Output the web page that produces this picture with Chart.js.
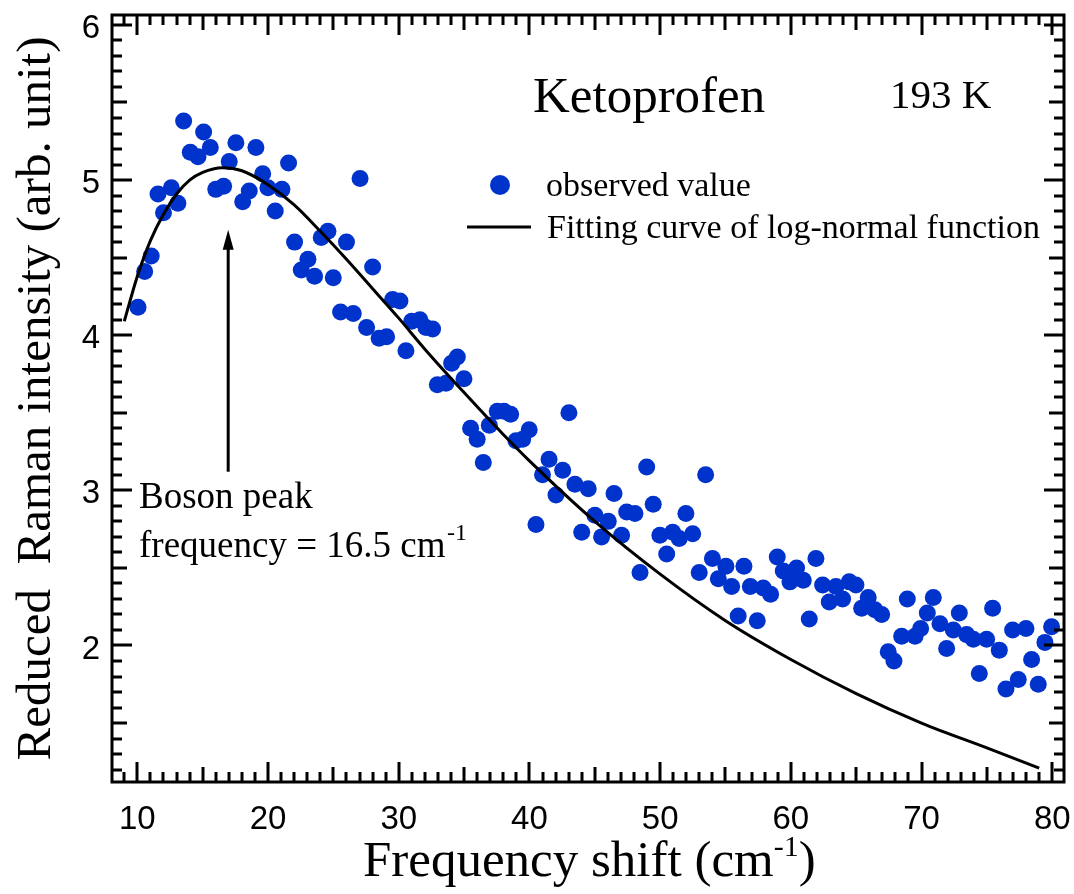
<!DOCTYPE html>
<html>
<head>
<meta charset="utf-8">
<script src="https://cdn.jsdelivr.net/npm/chart.js@4/dist/chart.umd.min.js"></script>
<style>
  body { margin: 0; background: #fff; }
  canvas { display: block; }
</style>
</head>
<body>
<canvas id="ramanChart" width="1074" height="894"></canvas>
<script>
// observed reduced Raman intensity, Ketoprofen 193 K
const obsShift = [
  10.05, 10.56, 11.06, 11.58, 12.00, 12.60, 13.10, 13.54, 14.05, 14.64,
  15.07, 15.58, 16.00, 16.60, 17.03, 17.54, 18.06, 18.56, 19.07, 19.59,
  19.99, 20.55, 21.06, 21.57, 22.03, 22.54, 23.05, 23.56, 24.07, 24.58,
  24.99, 25.55, 26.00, 26.52, 27.04, 27.54, 28.00, 28.50, 29.07, 29.53,
  30.09, 30.55, 30.99, 31.62, 32.08, 32.59, 32.95, 33.61, 34.05, 34.48,
  34.99, 35.50, 36.00, 36.47, 36.93, 37.54, 38.05, 38.56, 38.97, 39.48,
  39.98, 40.50, 41.00, 41.50, 42.03, 42.54, 43.02, 43.48, 44.00, 44.50,
  45.01, 45.52, 46.03, 46.47, 47.05, 47.44, 48.07, 48.46, 48.97, 49.47,
  49.98, 50.50, 50.96, 51.46, 51.97, 52.49, 52.99, 53.48, 54.00, 54.45,
  55.03, 55.47, 55.97, 56.41, 56.90, 57.43, 57.89, 58.45, 58.96, 59.42,
  59.93, 60.44, 60.95, 61.41, 61.92, 62.43, 62.94, 63.45, 63.96, 64.47,
  64.98, 65.42, 65.92, 66.43, 66.95, 67.45, 67.89, 68.48, 68.91, 69.50,
  69.93, 70.44, 70.90, 71.41, 71.92, 72.43, 72.89, 73.45, 73.96, 74.42,
  74.98, 75.44, 75.95, 76.46, 76.97, 77.40, 77.99, 78.42, 78.93, 79.44,
  79.95
]
const obsIntensity = [
  4.18, 4.41, 4.51, 4.91, 4.79, 4.95, 4.85, 5.38, 5.18, 5.15,
  5.31, 5.21, 4.94, 4.96, 5.12, 5.24, 4.86, 4.93, 5.21, 5.04,
  4.95, 4.80, 4.94, 5.11, 4.60, 4.42, 4.49, 4.38, 4.63, 4.67,
  4.37, 4.15, 4.60, 4.14, 5.01, 4.05, 4.44, 3.98, 3.99, 4.23,
  4.22, 3.90, 4.09, 4.10, 4.05, 4.04, 3.68, 3.69, 3.82, 3.86,
  3.72, 3.40, 3.33, 3.18, 3.42, 3.51, 3.51, 3.49, 3.32, 3.33,
  3.39, 2.78, 3.10, 3.20, 2.97, 3.13, 3.50, 3.04, 2.73, 3.01,
  2.84, 2.70, 2.80, 2.98, 2.71, 2.86, 2.85, 2.47, 3.15, 2.91,
  2.71, 2.59, 2.73, 2.69, 2.85, 2.72, 2.47, 3.10, 2.56, 2.43,
  2.51, 2.38, 2.19, 2.51, 2.38, 2.16, 2.37, 2.33, 2.57, 2.48,
  2.41, 2.50, 2.42, 2.17, 2.56, 2.39, 2.28, 2.38, 2.30, 2.41,
  2.39, 2.24, 2.31, 2.23, 2.20, 1.96, 1.90, 2.06, 2.30, 2.06,
  2.11, 2.21, 2.31, 2.14, 1.98, 2.10, 2.21, 2.07, 2.04, 1.82,
  2.04, 2.24, 1.97, 1.72, 2.10, 1.78, 2.11, 1.91, 1.75, 2.02,
  2.12
]

// log-normal fitting curve
const fitShift = [9.0, 10, 11, 12, 13, 14, 15, 16.5, 18, 20, 22, 24, 26, 28, 30, 32, 35, 38, 40, 45, 50, 55, 60, 65, 70, 75, 79]
const fitIntensity = [4.09, 4.38, 4.61, 4.78, 4.91, 5.00, 5.05, 5.08, 5.06, 4.97, 4.84, 4.67, 4.49, 4.30, 4.11, 3.91, 3.63, 3.36, 3.19, 2.80, 2.46, 2.16, 1.91, 1.69, 1.50, 1.34, 1.21]

const xTickLabels = [10, 20, 30, 40, 50, 60, 70, 80]
const yTickLabels = [2, 3, 4, 5, 6]

const DOT_BLUE = '#0033CC'
const SERIF = '"Liberation Serif", "Times New Roman", serif'
const SANS = '"Liberation Sans", Arial, sans-serif'

// text with optional superscript parts: [[text, size, rise], ...]
function drawRich(ctx, parts, x, y) {
    let cx = x
    parts.forEach(([text, size, rise]) => {
        ctx.font = `${size}px ${SERIF}`
        ctx.fillText(text, cx, y - (rise || 0))
        cx += ctx.measureText(text).width
    })
}

// frame and inward ticks on all four sides
const frameTicks = {
    id: 'frameTicks',
    afterDatasetsDraw(chart) {
        const { ctx, chartArea: a, scales: { x, y } } = chart
        ctx.save()
        ctx.strokeStyle = '#000'
        ctx.lineWidth = 3
        ctx.lineCap = 'butt'
        ctx.beginPath()
        for (let v = Math.ceil(x.min); v <= x.max; v++) {
            const len = v % 10 === 0 ? 20 : (v % 5 === 0 ? 15 : 10)
            const px = Math.round(x.getPixelForValue(v))
            ctx.moveTo(px, a.bottom); ctx.lineTo(px, a.bottom - len)
            ctx.moveTo(px, a.top); ctx.lineTo(px, a.top + len)
        }
        for (let i = Math.ceil(y.min * 10); i <= Math.floor(y.max * 10); i++) {
            const len = i % 10 === 0 ? 20 : (i % 5 === 0 ? 15 : 10)
            const py = Math.round(y.getPixelForValue(i / 10))
            ctx.moveTo(a.left, py); ctx.lineTo(a.left + len, py)
            ctx.moveTo(a.right, py); ctx.lineTo(a.right - len, py)
        }
        ctx.stroke()
        ctx.strokeRect(a.left, a.top, a.right - a.left, a.bottom - a.top)
        ctx.restore()
    }
}

// titles, legend and the boson peak note
const figureText = {
    id: 'figureText',
    afterDraw(chart) {
        const { ctx, chartArea: a, scales: { x, y } } = chart
        ctx.save()
        ctx.fillStyle = '#000'
        ctx.textBaseline = 'alphabetic'

        // y axis title
        ctx.save()
        ctx.translate(50, (a.top + a.bottom) / 2)
        ctx.rotate(-Math.PI / 2)
        ctx.textAlign = 'center'
        ctx.font = `49px ${SERIF}`
        ctx.fillText('Reduced  Raman intensity (arb. unit)', 0, 0)
        ctx.restore()

        // x axis title
        ctx.textAlign = 'left'
        drawRich(ctx, [['Frequency shift (cm', 51], ['-1', 30, 20], [')', 51]], 363, 876)

        // sample + temperature
        ctx.font = `51px ${SERIF}`
        ctx.fillText('Ketoprofen', 533, 112)
        ctx.font = `41px ${SERIF}`
        ctx.fillText('193 K', 890, 108)

        // legend
        ctx.fillStyle = DOT_BLUE
        ctx.beginPath()
        ctx.arc(500, 185, 10, 0, Math.PI * 2)
        ctx.fill()
        ctx.strokeStyle = '#000'
        ctx.lineWidth = 3
        ctx.beginPath()
        ctx.moveTo(467, 227); ctx.lineTo(531, 227)
        ctx.stroke()
        ctx.fillStyle = '#000'
        ctx.font = `34px ${SERIF}`
        ctx.fillText('observed value', 546, 196)
        ctx.fillText('Fitting curve of log-normal function', 547, 238)

        // arrow to the boson peak
        const ax = x.getPixelForValue(16.95)
        const yTip = y.getPixelForValue(4.68)
        const yTail = y.getPixelForValue(3.12)
        ctx.beginPath()
        ctx.moveTo(ax, yTail); ctx.lineTo(ax, yTip + 18)
        ctx.stroke()
        ctx.beginPath()
        ctx.moveTo(ax, yTip)
        ctx.lineTo(ax - 5.5, yTip + 20)
        ctx.lineTo(ax + 5.5, yTip + 20)
        ctx.closePath()
        ctx.fill()

        ctx.font = `37px ${SERIF}`
        ctx.fillText('Boson peak', 139, 508)
        drawRich(ctx, [['frequency = 16.5 cm', 37], [' ', 6], ['-1', 24, 17]], 139, 557)
        ctx.restore()
    }
}

const chart = new Chart(document.getElementById('ramanChart'), {
    type: 'scatter',
    data: {
        datasets: [
            {
                label: 'observed value',
                data: obsShift.map((v, i) => ({ x: v, y: obsIntensity[i] })),
                backgroundColor: DOT_BLUE,
                borderWidth: 0,
                pointRadius: 8.5,
                pointHoverRadius: 8.5,
                order: 2
            },
            {
                label: 'Fitting curve of log-normal function',
                data: fitShift.map((v, i) => ({ x: v, y: fitIntensity[i] })),
                showLine: true,
                borderColor: '#000',
                borderWidth: 3,
                pointRadius: 0,
                cubicInterpolationMode: 'monotone',
                order: 1
            }
        ]
    },
    options: {
        responsive: false,
        animation: false,
        devicePixelRatio: 1,
        layout: { padding: { top: 15, right: 10, left: 0, bottom: 0 } },
        plugins: { legend: { display: false }, tooltip: { enabled: false } },
        scales: {
            x: {
                type: 'linear',
                min: 8.06,
                max: 80.9,
                grid: { display: false, drawTicks: false },
                border: { display: false },
                afterBuildTicks: s => { s.ticks = xTickLabels.map(v => ({ value: v })) },
                afterFit: s => { s.height = 112; s.paddingLeft = 0; s.paddingRight = 0 },
                ticks: { color: '#000', padding: 18, maxRotation: 0, font: { family: SANS, size: 33 } }
            },
            y: {
                type: 'linear',
                min: 1.12,
                max: 6.064,
                grid: { display: false, drawTicks: false },
                border: { display: false },
                afterBuildTicks: s => { s.ticks = yTickLabels.map(v => ({ value: v })) },
                afterFit: s => { s.width = 112; s.paddingTop = 0; s.paddingBottom = 0 },
                ticks: { color: '#000', padding: 12, labelOffset: 4, font: { family: SANS, size: 33 } }
            }
        }
    },
    plugins: [frameTicks, figureText]
})
</script>
</body>
</html>
